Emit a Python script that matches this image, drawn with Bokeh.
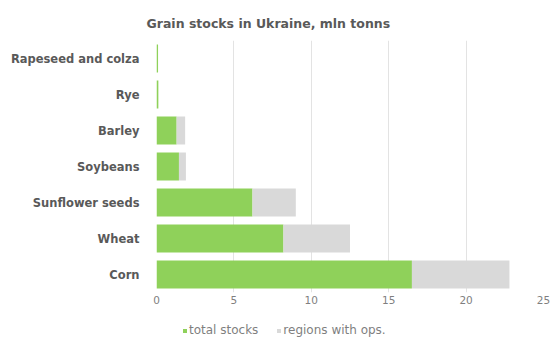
from bokeh.plotting import figure
from bokeh.layouts import column
from bokeh.models import ColumnDataSource, Legend, LegendItem, FactorRange, Range1d, FixedTicker
from bokeh.embed import file_html
from bokeh.resources import INLINE

categories = ["Corn", "Wheat", "Sunflower seeds", "Soybeans", "Barley", "Rye", "Rapeseed and colza"]
total_stocks = [16.5, 8.2, 6.2, 1.45, 1.3, 0.12, 0.1]
regions_with_ops = [6.3, 4.3, 2.8, 0.45, 0.55, 0.0, 0.0]
x_ticks = [0, 5, 10, 15, 20, 25]
series_names = ["total stocks", "regions with ops."]

GREEN = "#8fd15a"
GRAY = "#d9d9d9"
FONT = "DejaVu Sans"

src = ColumnDataSource(dict(cat=categories, total=total_stocks, ops=regions_with_ops))

p = figure(width=551, height=312, y_range=FactorRange(*categories), x_range=Range1d(0, 25),
           output_backend="svg", toolbar_location=None,
           min_border_left=156, min_border_right=8, min_border_top=40, min_border_bottom=20)

rs = p.hbar_stack(["total", "ops"], y="cat", height=0.78, color=[GREEN, GRAY], line_width=0, source=src)

p.title.text = "Grain stocks in Ukraine, mln tonns"
p.title.align = "left"
p.title.offset = -10
p.title.standoff = 19
p.title.text_font = FONT
p.title.text_font_style = "bold"
p.title.text_font_size = "12.5px"
p.title.text_color = "#595959"

p.outline_line_color = None
p.ygrid.grid_line_color = None
p.xgrid.grid_line_color = "#e3e3e3"
p.xaxis.ticker = FixedTicker(ticks=x_ticks)
p.xaxis.axis_line_color = None
p.xaxis.major_tick_line_color = None
p.xaxis.minor_tick_line_color = None
p.xaxis.major_label_text_font = FONT
p.xaxis.major_label_text_font_size = "10.5px"
p.xaxis.major_label_text_color = "#7f7f7f"
p.xaxis.major_label_standoff = -3

p.yaxis.axis_line_color = None
p.yaxis.major_tick_line_color = None
p.yaxis.major_label_text_font = FONT
p.yaxis.major_label_text_font_style = "bold"
p.yaxis.major_label_text_font_size = "11.5px"
p.yaxis.major_label_text_color = "#595959"
p.yaxis.major_label_standoff = 11

# legend strip below the chart (its frame is aligned with the chart's frame)
lf = figure(width=551, height=28, x_range=Range1d(0, 1), y_range=Range1d(0, 1),
            output_backend="svg", toolbar_location=None, min_border=0)
lf.axis.visible = False
lf.grid.grid_line_color = None
lf.outline_line_color = None
offscreen = ColumnDataSource(dict(y=[-10], right=[-10]))
r1 = lf.hbar(y="y", right="right", height=1, color=GREEN, line_width=0, source=offscreen)
r2 = lf.hbar(y="y", right="right", height=1, color=GRAY, line_width=0, source=offscreen)
legend = Legend(items=[LegendItem(label=series_names[0], renderers=[r1]),
                       LegendItem(label=series_names[1], renderers=[r2])],
                orientation="horizontal", location=(24, 1),
                label_text_font=FONT, label_text_font_size="12px", label_text_color="#7f7f7f",
                label_height=14, glyph_width=5, glyph_height=5, label_standoff=2, spacing=18,
                padding=2, margin=0, border_line_alpha=0, background_fill_alpha=0)
lf.add_layout(legend, "center")

open("out.html", "w").write(file_html(column(p, lf, spacing=0), INLINE))
